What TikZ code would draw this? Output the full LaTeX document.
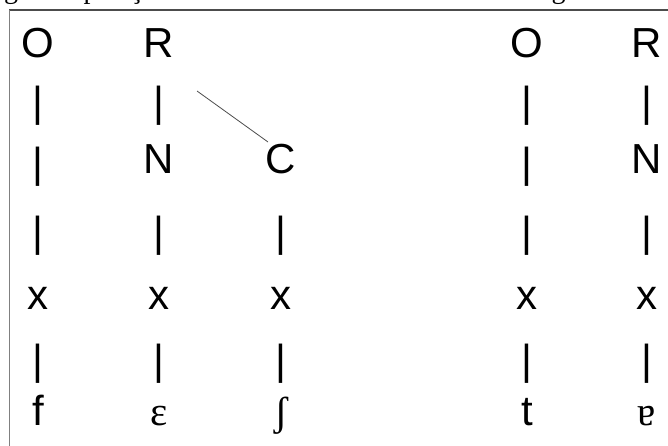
\documentclass[tikz,border=0pt]{standalone}
\usepackage{fontspec}
\newfontfamily\lsans{Liberation Sans}
\newfontfamily\lserif{Liberation Serif}
\begin{document}
\begin{tikzpicture}[x=1pt,y=-1pt,
  lab/.style={font=\lsans\fontsize{42}{42}\selectfont, inner sep=0pt, anchor=base},
  ipa/.style={font=\lserif\fontsize{41}{41}\selectfont, inner sep=0pt, anchor=base},
  frame/.style={draw=black!70, line width=1.4pt},
  sideline/.style={draw=black!50, line width=1pt},
  assoc/.style={draw=black!70, line width=0.8pt}]
\useasboundingbox (0,0) rectangle (668,446);
% cut-off caption line at the top
\begin{scope}
  \clip (0,0) rectangle (668,9);
  \node[font=\lserif\fontsize{28}{28}\selectfont, inner sep=0pt, anchor=base west] (cap) at (4,-1.5) {g duas posições de cada estrutura associadas à seguinte:};
\end{scope}
% frame
\coordinate (fc) at (9,10);
\coordinate (fr) at (668,10);
\coordinate (fb) at (9,446);
\draw[frame] (fc) -- (fr);
\draw[sideline] (fc) -- (fb);
% column 1
\node[lab] (a1) at (38,58) {O};
\node[lab] (a2) at (38,117) {|};
\node[lab] (a3) at (38,178) {|};
\node[lab] (a4) at (38,246) {|};
\node[lab] (a5) at (38,309) {x};
\node[lab] (a6) at (38,374) {|};
\node[lab] (a7) at (38,425) {f};
% column 2
\node[lab] (b1) at (159,58) {R};
\node[lab] (b2) at (159,117) {|};
\node[lab] (b3) at (159,174) {N};
\node[lab] (b4) at (159,246) {|};
\node[lab] (b5) at (159,309) {x};
\node[lab] (b6) at (159,374) {|};
\node[ipa] (b7) at (159,425) {ɛ};
% column 3
\node[lab] (c3) at (281,174) {C};
\node[lab] (c4) at (281,246) {|};
\node[lab] (c5) at (281,309) {x};
\node[lab] (c6) at (281,374) {|};
\node[ipa] (c7) at (281,425) {ʃ};
% column 4
\node[lab] (d1) at (527,58) {O};
\node[lab] (d2) at (527,117) {|};
\node[lab] (d3) at (527,178) {|};
\node[lab] (d4) at (527,246) {|};
\node[lab] (d5) at (527,309) {x};
\node[lab] (d6) at (527,374) {|};
\node[lab] (d7) at (527,425) {t};
% column 5
\node[lab] (e1) at (647,58) {R};
\node[lab] (e2) at (647,117) {|};
\node[lab] (e3) at (647,174) {N};
\node[lab] (e4) at (647,246) {|};
\node[lab] (e5) at (647,309) {x};
\node[lab] (e6) at (647,374) {|};
\node[ipa] (e7) at (647,425) {ɐ};
% association line R -- C
\coordinate (s1) at (197,91);
\coordinate (s2) at (268,142);
\draw[assoc] (s1) -- (s2);
\end{tikzpicture}
\end{document}
